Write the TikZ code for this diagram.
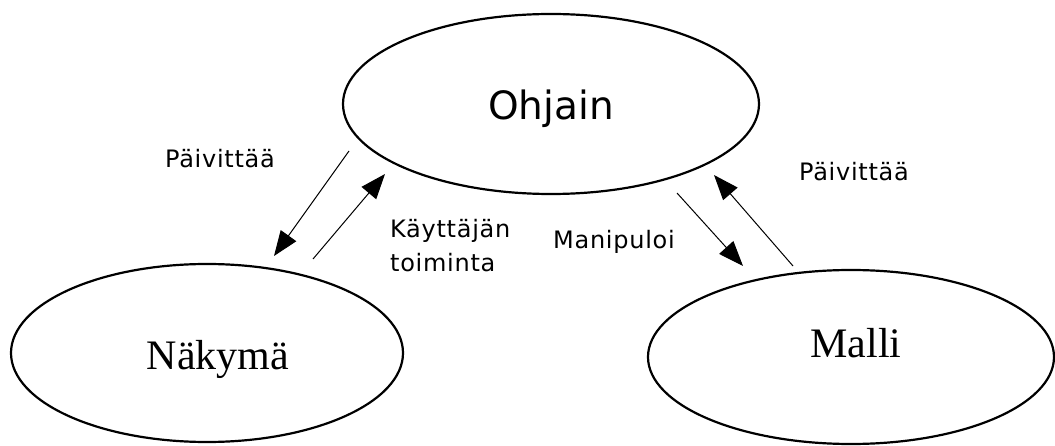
\documentclass[tikz,border=0pt]{standalone}
\usepackage{fontspec}
\setmainfont{Liberation Serif}
\newfontfamily\ctlfont{DejaVu Sans}
\newfontfamily\lblfont[LetterSpace=3]{DejaVu Sans}
\usetikzlibrary{shapes.geometric,arrows.meta}
\tikzset{
  part/.style={ellipse, draw, line width=2.2pt, inner sep=0pt},
  flow/.style={line width=1pt, -{Triangle[length=25pt,width=19pt]}},
  lbl/.style={font=\lblfont\fontsize{24}{28}\selectfont, inner sep=0pt},
  serifname/.style={font=\fontsize{42}{48}\selectfont, inner sep=0pt},
}
\begin{document}
\begin{tikzpicture}[x=1pt,y=-1pt]
\useasboundingbox (0,0) rectangle (1055,446);

% the three parts
\node[part, minimum width=416pt, minimum height=180pt] (ctl) at (551,104) {};
\node[part, minimum width=392pt, minimum height=178pt] (view) at (207,353) {};
\node[part, minimum width=406pt, minimum height=174pt] (model) at (851,357) {};

\node[anchor=base, inner sep=0pt, font=\ctlfont\fontsize{39}{44}\selectfont] (ctltext) at (551,120) {Ohjain};
\node[anchor=base, serifname] (viewtext) at (218,370) {Näkymä};
\node[anchor=base, serifname] (modeltext) at (856,358) {Malli};

% arrow end points in the gaps between the parts
\coordinate (a1s) at (349,151);
\coordinate (a1e) at (274,256);
\coordinate (a2s) at (313,259);
\coordinate (a2e) at (385,174);
\coordinate (a3s) at (677,193);
\coordinate (a3e) at (743,266);
\coordinate (a4s) at (793,266);
\coordinate (a4e) at (714,175);

\draw[flow] (a1s) -- (a1e);
\draw[flow] (a2s) -- (a2e);
\draw[flow] (a3s) -- (a3e);
\draw[flow] (a4s) -- (a4e);

% labels
\node[lbl, anchor=base] (l1) at (220,168) {Päivittää};
\node[lbl, anchor=base west] (l2a) at (390,238) {Käyttäjän};
\node[lbl, anchor=base west] (l2b) at (390,272) {toiminta};
\node[lbl, anchor=base west] (l3) at (553,249) {Manipuloi};
\node[lbl, anchor=base] (l4) at (854,181) {Päivittää};
\end{tikzpicture}
\end{document}
